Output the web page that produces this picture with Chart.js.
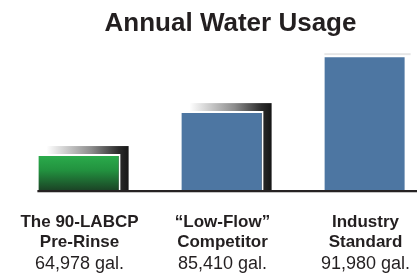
<!DOCTYPE html>
<html>
<head>
<meta charset="utf-8">
<title>Annual Water Usage</title>
<script src="https://cdn.jsdelivr.net/npm/chart.js@4"></script>
<style>
  html, body { margin: 0; padding: 0; background: #fff; overflow: hidden; }
  #wrap { position: absolute; left: 8px; top: 0; width: 445px; height: 274px; }
</style>
</head>
<body>
<div id="wrap"><canvas id="usageChart" width="445" height="274"></canvas></div>
<script>
// ─── DATA ──────────────────────────────────────────────────
const CATEGORIES  = [['The 90-LABCP', 'Pre-Rinse'], ['\u201CLow-Flow\u201D', 'Competitor'], ['Industry', 'Standard']];
const GALLONS     = [64978, 85410, 91980];
// bar heights as they are drawn in the picture (the bars are not to scale with GALLONS)
const BAR_HEIGHTS = [36, 79, 135];
const Y_MAX       = 147;

const VALUE_LABELS = GALLONS.map(g => g.toLocaleString('en-US') + ' gal.');

// ─── STYLE ─────────────────────────────────────────────────
const FONT      = "'Liberation Sans', Arial, Helvetica, sans-serif";
const TEXT      = '#231f20';
const BLUE      = '#4d76a2';
const SHADOWED  = [true, true, false];
const SHADOW_OFF = 8;

function barFill(ctx) {
  if (ctx.dataIndex !== 0) return BLUE;
  const chart = ctx.chart;
  if (!chart.chartArea) return '#23903f';
  const y = chart.scales.y;
  const g = chart.ctx.createLinearGradient(0, y.getPixelForValue(BAR_HEIGHTS[0]), 0, y.getPixelForValue(0));
  g.addColorStop(0, '#2cae4d');
  g.addColorStop(0.45, '#22923f');
  g.addColorStop(1, '#1b4526');
  return g;
}

// dark drop shadow behind the first two bars
const shadowPlugin = {
  id: 'barShadow',
  beforeDatasetsDraw(chart) {
    const c = chart.ctx;
    chart.getDatasetMeta(0).data.forEach((bar, i) => {
      const { x, y, base, width } = bar.getProps(['x', 'y', 'base', 'width'], true);
      const left = x - width / 2, right = x + width / 2;
      c.save();
      if (SHADOWED[i]) {
        const sl = left + SHADOW_OFF, sr = right + SHADOW_OFF;
        const g = c.createLinearGradient(sl, 0, sr, 0);
        g.addColorStop(0, '#ffffff');
        g.addColorStop(0.55, '#8c8c8c');
        g.addColorStop(0.88, '#2b2b2b');
        g.addColorStop(1, '#161616');
        c.fillStyle = g;
        c.fillRect(sl, y - SHADOW_OFF, sr - sl, base - y + SHADOW_OFF);
      } else {
        c.fillStyle = '#e6e6e6';
        c.fillRect(left, y - 2, width + 4, 2);
      }
      c.restore();
    });
  },
};

// heavy base line under the bars
const baselinePlugin = {
  id: 'baseline',
  afterDatasetsDraw(chart) {
    const c = chart.ctx;
    const first = chart.getDatasetMeta(0).data[0];
    const start = first.x - first.width / 2 - 1;
    const yb = chart.chartArea.bottom;
    c.save();
    c.fillStyle = '#262223';
    c.fillRect(start, yb, chart.width - start, 2);
    c.fillStyle = '#c4c4c4';
    c.fillRect(start, yb + 2, chart.width - start, 1);
    c.restore();
  },
};

function fixAxis(height) {
  return s => { s.height = height; s.paddingLeft = 0; s.paddingRight = 0; };
}

new Chart(document.getElementById('usageChart'), {
  type: 'bar',
  data: {
    labels: CATEGORIES,
    datasets: [{
      data: BAR_HEIGHTS,
      backgroundColor: barFill,
      borderColor: '#ffffff',
      borderWidth: { top: 2, right: 2, left: 0, bottom: 0 },
      categoryPercentage: 1,
      barPercentage: 0.575,
    }],
  },
  options: {
    responsive: false,
    animation: false,
    devicePixelRatio: 1,
    layout: { padding: 0 },
    plugins: {
      legend: { display: false },
      tooltip: { enabled: false },
      title: {
        display: true,
        text: 'Annual Water Usage',
        color: TEXT,
        font: { family: FONT, size: 26, weight: 'bold' },
        padding: { top: 8, bottom: 4 },
      },
    },
    scales: {
      x: {
        weight: 0,
        grid: { display: false, drawTicks: false },
        border: { display: false },
        ticks: {
          color: TEXT, padding: 22, maxRotation: 0, autoSkip: false,
          font: { family: FONT, size: 17, weight: 'bold', lineHeight: 20 / 17 },
        },
        afterFit: fixAxis(62),
      },
      x2: {
        type: 'category',
        labels: VALUE_LABELS,
        position: 'bottom',
        offset: true,
        weight: 1,
        grid: { display: false, drawTicks: false },
        border: { display: false },
        ticks: {
          color: TEXT, padding: 2, maxRotation: 0, autoSkip: false,
          font: { family: FONT, size: 18, lineHeight: 1.1 },
        },
        afterFit: fixAxis(22),
      },
      y: {
        position: 'right',
        min: 0,
        max: Y_MAX,
        grid: { display: false, drawTicks: false },
        border: { display: false },
        ticks: { display: false },
        afterFit: s => { s.width = 16; },
      },
    },
  },
  plugins: [shadowPlugin, baselinePlugin],
});
</script>
</body>
</html>
